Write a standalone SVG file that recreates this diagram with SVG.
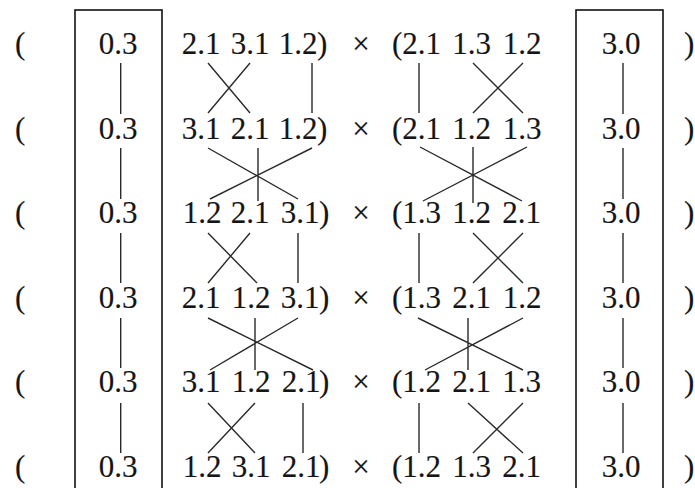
<svg xmlns="http://www.w3.org/2000/svg" width="695" height="488" viewBox="0 0 695 488">
<style>
text{font-family:"Liberation Serif","Times New Roman",serif;font-size:31px;fill:#151515;stroke:#151515;stroke-width:0.15}
.m{text-anchor:middle}
.c{stroke:#2a2a2a;stroke-width:1.4;fill:none;stroke-linecap:butt}
.box{stroke:#111;stroke-width:1.6;fill:none}
</style>
<rect width="695" height="488" fill="#fff"/>
<g id="box-left"><rect class="box" x="75" y="10" width="87" height="500"/></g>
<g id="box-right"><rect class="box" x="576" y="10" width="87" height="500"/></g>

<g id="row1">
<text x="15" y="54">(</text><text class="m" x="118" y="54">0.3</text>
<text class="m" x="201" y="54">2.1</text><text class="m" x="250" y="54">3.1</text><text class="m" x="298" y="54">1.2</text><text x="317" y="54">)</text>
<text class="m" x="361" y="54">×</text>
<text x="392" y="54">(</text><text class="m" x="421.5" y="54">2.1</text><text class="m" x="471.5" y="54">1.3</text><text class="m" x="522" y="54">1.2</text>
<text class="m" x="621" y="54">3.0</text><text x="684" y="54">)</text>
</g>
<g id="row2">
<text x="15" y="139">(</text><text class="m" x="118" y="139">0.3</text>
<text class="m" x="201" y="139">3.1</text><text class="m" x="250" y="139">2.1</text><text class="m" x="298" y="139">1.2</text><text x="317" y="139">)</text>
<text class="m" x="361" y="139">×</text>
<text x="392" y="139">(</text><text class="m" x="421.5" y="139">2.1</text><text class="m" x="471.5" y="139">1.2</text><text class="m" x="522" y="139">1.3</text>
<text class="m" x="621" y="139">3.0</text><text x="684" y="139">)</text>
</g>
<g id="row3">
<text x="15" y="223">(</text><text class="m" x="118" y="223">0.3</text>
<text class="m" x="202" y="223">1.2</text><text class="m" x="250" y="223">2.1</text><text class="m" x="300" y="223">3.1</text><text x="319" y="223">)</text>
<text class="m" x="361" y="223">×</text>
<text x="392" y="223">(</text><text class="m" x="421.5" y="223">1.3</text><text class="m" x="471.5" y="223">1.2</text><text class="m" x="521.5" y="223">2.1</text>
<text class="m" x="621" y="223">3.0</text><text x="684" y="223">)</text>
</g>
<g id="row4">
<text x="15" y="308">(</text><text class="m" x="118" y="308">0.3</text>
<text class="m" x="201" y="308">2.1</text><text class="m" x="251" y="308">1.2</text><text class="m" x="300" y="308">3.1</text><text x="319" y="308">)</text>
<text class="m" x="361" y="308">×</text>
<text x="392" y="308">(</text><text class="m" x="421.5" y="308">1.3</text><text class="m" x="471.5" y="308">2.1</text><text class="m" x="522" y="308">1.2</text>
<text class="m" x="621" y="308">3.0</text><text x="684" y="308">)</text>
</g>
<g id="row5">
<text x="15" y="392">(</text><text class="m" x="118" y="392">0.3</text>
<text class="m" x="201" y="392">3.1</text><text class="m" x="251" y="392">1.2</text><text class="m" x="301" y="392">2.1</text><text x="319" y="392">)</text>
<text class="m" x="361" y="392">×</text>
<text x="392" y="392">(</text><text class="m" x="421.5" y="392">1.2</text><text class="m" x="471.5" y="392">2.1</text><text class="m" x="521.5" y="392">1.3</text>
<text class="m" x="621" y="392">3.0</text><text x="684" y="392">)</text>
</g>
<g id="row6">
<text x="15" y="477">(</text><text class="m" x="118" y="477">0.3</text>
<text class="m" x="202" y="477">1.2</text><text class="m" x="251" y="477">3.1</text><text class="m" x="301" y="477">2.1</text><text x="319" y="477">)</text>
<text class="m" x="361" y="477">×</text>
<text x="392" y="477">(</text><text class="m" x="421.5" y="477">1.2</text><text class="m" x="471.5" y="477">1.3</text><text class="m" x="521.5" y="477">2.1</text>
<text class="m" x="621" y="477">3.0</text><text x="684" y="477">)</text>
</g>

<g id="connectors" class="c">
<path d="M120.7 63V114M120.7 148V199M120.7 233V283M120.7 318V368M120.7 403V453"/>
<path d="M623 63V114M623 148V199M623 233V283M623 318V368M623 403V453"/>
<path d="M208 63L250 113M250 63L208 113M312 63V113"/>
<path d="M208 148L298 199M312 148L210 199M258 148V201"/>
<path d="M208 233L257 283M250 233L208 283M298 233V283"/>
<path d="M208 318L313 370M298 318L210 370M255 318V370"/>
<path d="M208 403L255 453M255 403L208 453M303 403V453"/>
<path d="M419 63V113M473 63L523 113M523 63L473 113"/>
<path d="M420 147L522 201M527 147L423 201M473 147V203"/>
<path d="M419 233V283M473 233L523 283M523 233L473 283"/>
<path d="M418 318L523 370M523 318L425 370M468 318V370"/>
<path d="M419 403V453M468 403L523 453M523 403L473 453"/>
</g>
</svg>
